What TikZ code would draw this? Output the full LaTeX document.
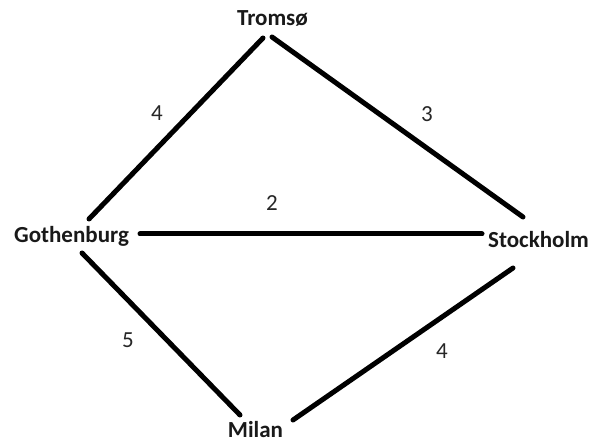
\documentclass[tikz,border=0pt]{standalone}
\usepackage{fontspec}
\setmainfont{Carlito}
\begin{document}
\begin{tikzpicture}[x=1pt,y=-1pt,
  city/.style={font=\fontsize{23}{27}\selectfont\bfseries, text=black!90, inner sep=0pt, anchor=base},
  wlabel/.style={font=\fontsize{23}{27}\selectfont, text=black!85, inner sep=0pt},
  edge/.style={line width=5pt, line cap=round, black}]
\useasboundingbox (0,0) rectangle (591,443);
\fill[white] (0,0) rectangle (591,443);
\node[city] (T) at (272.5,26) {Tromsø};
\node[city] (G) at (71.5,243) {Gothenburg};
\node[city] (S) at (538.5,248) {Stockholm};
\node[city] (M) at (255.5,437) {Milan};
\draw[edge] ([shift={(-9.5,12)}]T.base) -- ([shift={(17.5,-24)}]G.base);
\draw[edge] ([shift={(-0.5,11)}]T.base) -- ([shift={(-15.5,-31)}]S.base);
\draw[edge] ([shift={(68.5,-9)}]G.base) -- ([shift={(-56.5,-14)}]S.base);
\draw[edge] ([shift={(10.5,10)}]G.base) -- ([shift={(-15.5,-22)}]M.base);
\draw[edge] ([shift={(37.5,-17)}]M.base) -- ([shift={(-25.5,20)}]S.base);
\node[wlabel] (l1) at (157,113) {4};
\node[wlabel] (l2) at (427,114) {3};
\node[wlabel] (l3) at (272,203) {2};
\node[wlabel] (l4) at (128,340) {5};
\node[wlabel] (l5) at (442,351) {4};
\end{tikzpicture}
\end{document}
